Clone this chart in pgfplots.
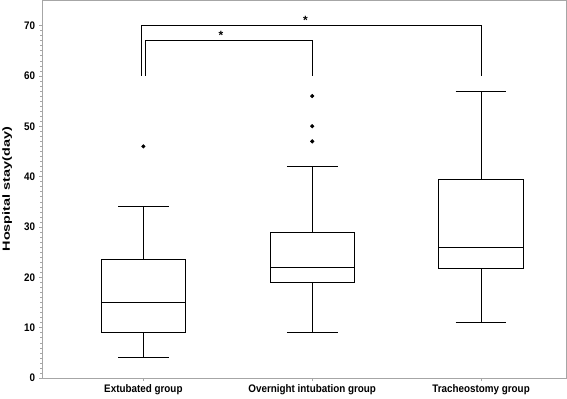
\documentclass[border=0pt]{standalone}
\usepackage{pgfplots}
\pgfplotsset{compat=1.18}
\usepgfplotslibrary{statistics}
\usepackage{fontspec}
\setmainfont{Liberation Sans}
\begin{document}
\begin{tikzpicture}
\begin{axis}[
  scale only axis,
  width=525bp, height=378bp,
  xmin=0.4, xmax=3.507,
  ymin=0, ymax=75,
  xtick={1,2,3},
  xticklabels={Extubated group, Overnight intubation group, Tracheostomy group},
  ytick={0,10,20,30,40,50,60,70},
  minor y tick num=9,
  axis line style={gray!70, line width=0.7pt},
  tick align=outside,
  xtick pos=bottom, ytick pos=left,
  major tick length=3bp, minor tick length=2bp,
  tick style={gray!70, line width=0.5pt},
  /pgf/number format/assume math mode=true,
  tick label style={font=\fontsize{11}{13}\selectfont\bfseries, black, xscale=0.9},
  yticklabel style={xshift=-1bp},
  ylabel={Hospital stay(day)},
  ylabel style={font=\fontsize{14.5}{17}\selectfont\bfseries, yscale=0.72, yshift=9bp},
  boxplot/draw direction=y,
  boxplot/box extend=0.5,
]
\addplot[black, line width=0.9pt, mark=*, mark size=1.6pt, mark options={fill=black},
  boxplot prepared={draw position=1, lower whisker=4, lower quartile=9, median=15, upper quartile=23.5, upper whisker=34, whisker extend=0.3, draw direction=y}]
  table[row sep=\\, y index=0] {46\\};
\addplot[black, line width=0.9pt, mark=*, mark size=1.6pt, mark options={fill=black},
  boxplot prepared={draw position=2, lower whisker=9, lower quartile=19, median=22, upper quartile=29, upper whisker=42, whisker extend=0.3, draw direction=y}]
  table[row sep=\\, y index=0] {47\\ 50\\ 56\\};
\addplot[black, line width=0.9pt,
  boxplot prepared={draw position=3, lower whisker=11, lower quartile=21.8, median=26, upper quartile=39.5, upper whisker=57, whisker extend=0.3, draw direction=y}]
  coordinates {};
% significance brackets
\addplot[black, line width=0.9pt, mark=none] coordinates {(0.99,60) (0.99,70) (3,70) (3,60)};
\addplot[black, line width=0.9pt, mark=none] coordinates {(1.015,60) (1.015,67) (2,67) (2,60)};
\node[font=\fontsize{12}{13}\selectfont\bfseries, inner sep=0pt, anchor=base] at (axis cs:1.96,70.2) {*};
\node[font=\fontsize{12}{13}\selectfont\bfseries, inner sep=0pt, anchor=base] at (axis cs:1.46,67.2) {*};
\end{axis}
\end{tikzpicture}
\end{document}
